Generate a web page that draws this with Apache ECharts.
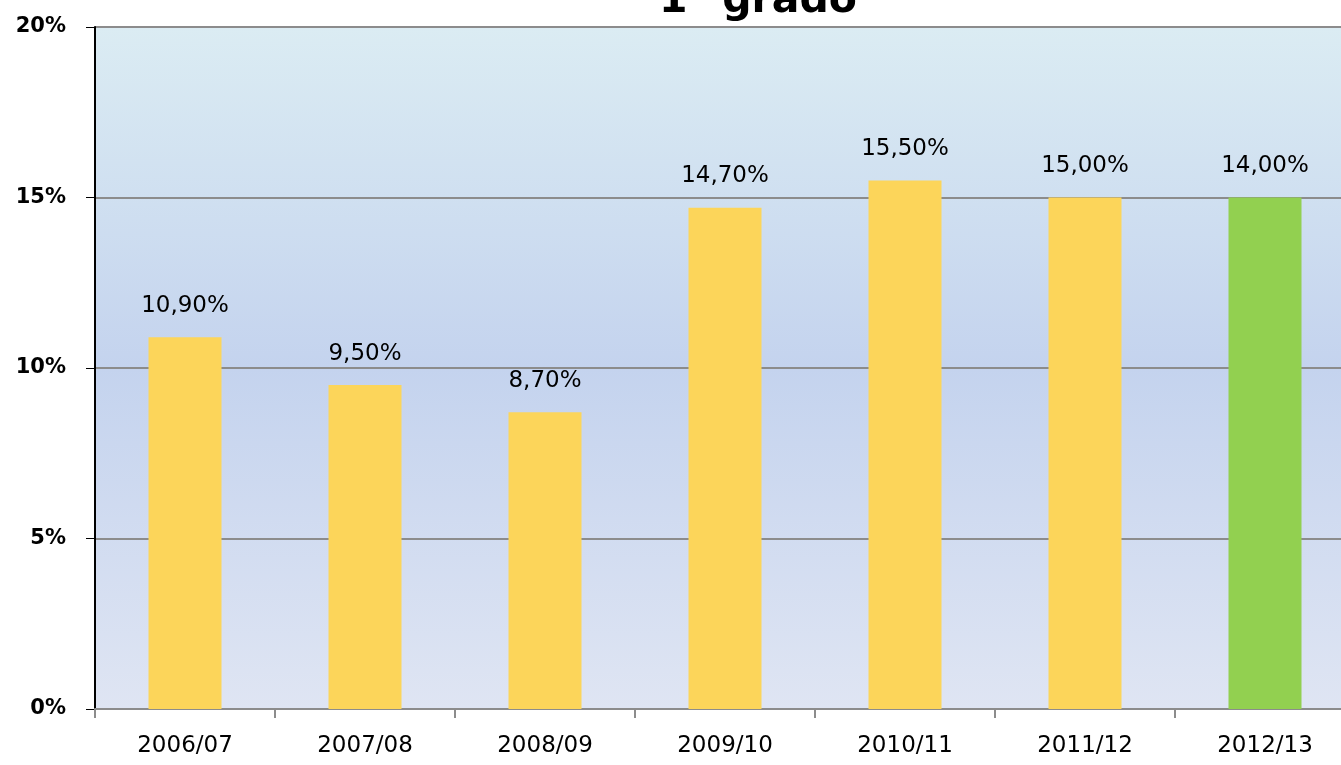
<!DOCTYPE html>
<html>
<head>
<meta charset="utf-8">
<script src="https://cdn.jsdelivr.net/npm/echarts@6/dist/echarts.min.js"></script>
<style>
  html, body { margin: 0; padding: 0; background: #fff; }
  #main { width: 1341px; height: 765px; }
</style>
</head>
<body>
<div id="main"></div>
<script>
// dati
const categories = ["2006/07", "2007/08", "2008/09", "2009/10", "2010/11", "2011/12", "2012/13"];
const values = [10.9, 9.5, 8.7, 14.7, 15.5, 15.0, 15.0];
const labels = ["10,90%", "9,50%", "8,70%", "14,70%", "15,50%", "15,00%", "14,00%"];
const barColors = ["#fcd55a", "#fcd55a", "#fcd55a", "#fcd55a", "#fcd55a", "#fcd55a", "#92d050"];
const yTicks = [0, 5, 10, 15, 20];

const font = "DejaVu Sans";

const option = {
  animation: false,
  title: {
    text: "1° grado",
    left: 753,
    textAlign: "center",
    top: -24,
    textStyle: { fontFamily: font, fontSize: 41, fontWeight: "bold", color: "#000" },
  },
  grid: {
    left: 95,
    top: 27,
    width: 1260,
    bottom: 56,
    outerBoundsMode: "none",
    containLabel: false,
    show: true,
    borderWidth: 0,
    backgroundColor: new echarts.graphic.LinearGradient(0, 0, 0, 1, [
      { offset: 0, color: "#dbecf3" },
      { offset: 0.5, color: "#c4d3ee" },
      { offset: 1, color: "#dfe5f3" },
    ]),
  },
  xAxis: {
    type: "category",
    data: categories,
    axisLine: { show: true, lineStyle: { color: "#8c8c8c", width: 2 } },
    axisTick: { show: true, length: 9, lineStyle: { color: "#8c8c8c", width: 2 } },
    axisLabel: { fontFamily: font, fontSize: 23, color: "#000", margin: 26 },
  },
  yAxis: {
    type: "value",
    min: yTicks[0],
    max: yTicks[yTicks.length - 1],
    interval: 5,
    axisLine: { show: true, lineStyle: { color: "#000", width: 2 } },
    axisTick: { show: true, length: 9, lineStyle: { color: "#000", width: 1 } },
    splitLine: { show: true, lineStyle: { color: "#8c8c8c", width: 2 } },
    axisLabel: {
      fontFamily: font,
      fontSize: 21,
      fontWeight: "bold",
      color: "#000",
      margin: 29,
      formatter: (v) => v + "%",
    },
  },
  series: [
    {
      type: "bar",
      barWidth: 73,
      data: values.map((v, i) => ({ value: v, itemStyle: { color: barColors[i] } })),
      label: {
        show: true,
        position: "top",
        distance: 20,
        fontFamily: font,
        fontSize: 23,
        color: "#000",
        formatter: (p) => labels[p.dataIndex],
      },
    },
  ],
};

const myChart = echarts.init(document.getElementById("main"));
myChart.setOption(option);
</script>
</body>
</html>
